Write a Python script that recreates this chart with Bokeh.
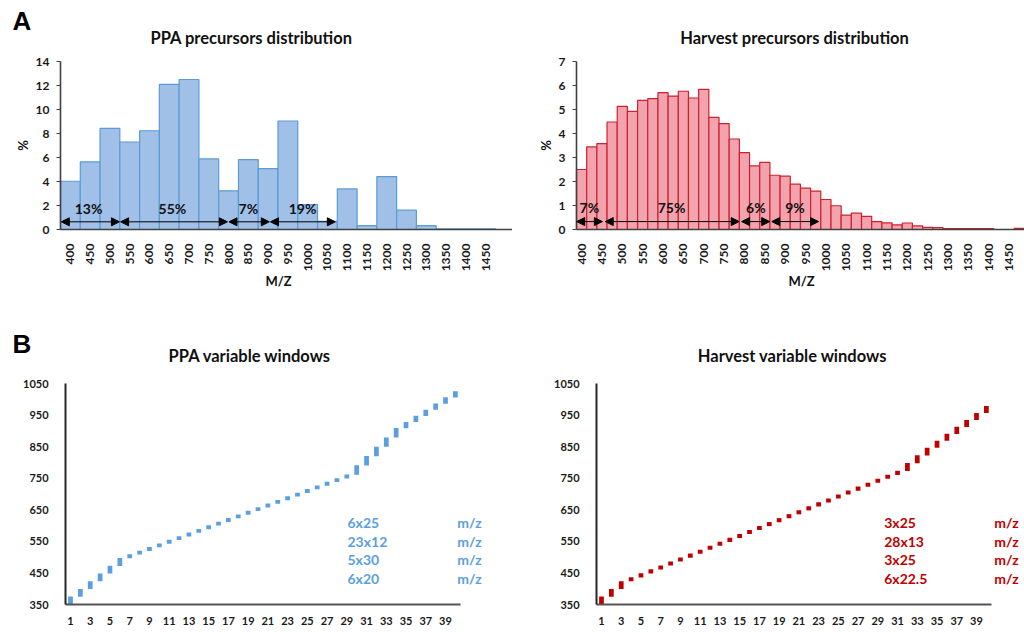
import math
from bokeh.plotting import figure
from bokeh.layouts import column, row
from bokeh.models import Range1d, FixedTicker, Label, Arrow, NormalHead
from bokeh.embed import file_html
from bokeh.resources import INLINE

FONT = "Lato"
LETTER_FONT = "Liberation Sans"
W, H = 512, 316

# ---------------- Panel A data ----------------
ppa_mz = [400, 450, 500, 550, 600, 650, 700, 750, 800, 850, 900,
          950, 1000, 1050, 1100, 1150, 1200, 1250, 1300, 1350, 1400, 1450]
ppa_pct = [4.02, 5.63, 8.43, 7.29, 8.23, 12.1, 12.5, 5.88, 3.22, 5.82, 5.07,
           9.04, 2.08, 0.67, 3.38, 0.33, 4.41, 1.61, 0.33, 0.05, 0.05, 0.05]
ppa_ticks = [400, 450, 500, 550, 600, 650, 700, 750, 800, 850, 900,
             950, 1000, 1050, 1100, 1150, 1200, 1250, 1300, 1350, 1400, 1450]
ppa_span_start = [377, 527, 801, 906]
ppa_span_end = [524, 797, 903, 1070]
ppa_span_text = ["13%", "55%", "7%", "19%"]
ppa_span_text_x = [446, 658, 850, 987]

harvest_mz = [400, 425, 450, 475, 500, 525, 550, 575, 600, 625, 650,
              675, 700, 725, 750, 775, 800, 825, 850, 875, 900, 925,
              950, 975, 1000, 1025, 1050, 1075, 1100, 1125, 1150, 1175,
              1200, 1225, 1250, 1275, 1300, 1325, 1350, 1375, 1400, 1425,
              1450, 1475]
harvest_pct = [2.50, 3.44, 3.58, 4.48, 5.13, 4.92, 5.38, 5.45, 5.70, 5.56, 5.76,
               5.48, 5.84, 4.67, 4.41, 3.77, 3.20, 2.65, 2.80, 2.26, 2.22, 1.89,
               1.72, 1.60, 1.25, 0.99, 0.60, 0.68, 0.55, 0.33, 0.28, 0.19,
               0.27, 0.15, 0.09, 0.08, 0.04, 0.04, 0.04, 0.04, 0.04, 0.0,
               0.0, 0.05]
harvest_ticks = [400, 450, 500, 550, 600, 650, 700, 750, 800, 850, 900,
                 950, 1000, 1050, 1100, 1150, 1200, 1250, 1300, 1350, 1400, 1450]
harvest_span_start = [388, 458, 793, 867]
harvest_span_end = [451, 787, 862, 982]
harvest_span_text = ["7%", "75%", "6%", "9%"]
harvest_span_text_x = [419, 621, 828, 924]

# ---------------- Panel B data ----------------
window_no = list(range(1, 41))
ppa_low = [350, 374.5, 399, 423.5, 448, 472.5, 497, 508.5, 520, 531.5,
           543, 554.5, 566, 577.5, 589, 600.5, 612, 623.5, 635, 646.5,
           658, 669.5, 681, 692.5, 704, 715.5, 727, 738.5, 750, 761.5,
           791, 820.5, 850, 879.5, 909, 928.5, 948, 967.5, 987, 1006.5]
ppa_high = [375, 399.5, 424, 448.5, 473, 497.5, 509, 520.5, 532, 543.5,
            555, 566.5, 578, 589.5, 601, 612.5, 624, 635.5, 647, 658.5,
            670, 681.5, 693, 704.5, 716, 727.5, 739, 750.5, 762, 791.5,
            821, 850.5, 880, 909.5, 929, 948.5, 968, 987.5, 1007, 1026.5]
harvest_low = [350, 374.5, 399, 423.5, 436, 448.5, 461, 473.5, 486, 498.5,
               511, 523.5, 536, 548.5, 561, 573.5, 586, 598.5, 611, 623.5,
               636, 648.5, 661, 673.5, 686, 698.5, 711, 723.5, 736, 748.5,
               761, 773.5, 798, 822.5, 847, 869, 891, 913, 935, 957]
harvest_high = [375, 399.5, 424, 436.5, 449, 461.5, 474, 486.5, 499, 511.5,
                524, 536.5, 549, 561.5, 574, 586.5, 599, 611.5, 624, 636.5,
                649, 661.5, 674, 686.5, 699, 711.5, 724, 736.5, 749, 761.5,
                774, 798.5, 823, 847.5, 869.5, 891.5, 913.5, 935.5, 957.5, 979.5]
window_ticks = [1, 3, 5, 7, 9, 11, 13, 15, 17, 19, 21, 23, 25, 27, 29, 31, 33, 35, 37, 39]
window_y_ticks = [350, 450, 550, 650, 750, 850, 950, 1050]
ppa_scheme = ["6x25", "23x12", "5x30", "6x20"]
harvest_scheme = ["3x25", "28x13", "3x25", "6x22.5"]

BLUE_FILL = "#a0c0e8"
BLUE_LINE = "#5b9bd5"
RED_FILL = "#f2a3ad"
RED_LINE = "#d0202e"
BLUE_BAR = "#5b9fe0"
RED_BAR = "#c00000"


def mapper(ox, oy, xp, xv, yp, yv):
    """Linear maps from page pixels to data, and ranges covering the canvas."""
    sx = (xp[1] - xp[0]) / (xv[1] - xv[0])
    sy = (yp[0] - yp[1]) / (yv[1] - yv[0])

    def fx(px):
        return xv[0] + (px - xp[0]) / sx

    def fy(py):
        return yv[0] + (yp[0] - py) / sy

    return fx, fy, Range1d(fx(ox), fx(ox + W)), Range1d(fy(oy + H), fy(oy))


def base_fig(xr, yr):
    p = figure(width=W, height=H, min_border=0, min_border_left=0, min_border_right=0,
               min_border_top=0, min_border_bottom=0, x_range=xr, y_range=yr,
               output_backend="svg", toolbar_location=None, title=None)
    p.outline_line_color = None
    p.grid.grid_line_color = None
    for ax in (p.xaxis[0], p.yaxis[0]):
        ax.major_label_text_font = FONT
        ax.major_label_text_font_style = "bold"
        ax.major_label_text_color = "#1a1a1a"
        ax.minor_tick_line_color = None
    return p


def text(p, x, y, s, size, color="#111111", align="left", angle=0.0, font=FONT):
    p.add_layout(Label(x=x, y=y, text=s, text_align=align, text_baseline="middle",
                       angle=angle, text_font=font, text_font_style="bold",
                       text_font_size=size, text_color=color))


def hist(ox, xp, mz, pct, width, ticks, ymax, ystep, s0, s1, stext, stx, sy, ty,
         fill, line, title, title_x, pct_x, mz_x, letter):
    fx, fy, xr, yr = mapper(ox, 0, xp, (mz[0], mz[-1]), (229, 61), (0, ymax))
    p = base_fig(xr, yr)
    x_lo = mz[0] - width / 2
    p.vbar(x=mz, top=pct, width=width, fill_color=fill, line_color=line, line_width=1.2)
    p.xaxis.fixed_location = 0
    p.yaxis.fixed_location = x_lo
    p.xaxis.bounds = (x_lo, xr.end)
    p.yaxis.bounds = (0, ymax)
    p.xaxis.ticker = FixedTicker(ticks=ticks)
    p.yaxis.ticker = FixedTicker(ticks=[i * ystep for i in range(int(round(ymax / ystep)) + 1)])
    p.xaxis.major_label_orientation = math.pi / 2
    p.xaxis.major_tick_line_color = None
    p.xaxis.major_label_standoff = 8
    for ax in (p.xaxis[0], p.yaxis[0]):
        ax.axis_line_color = "#404040"
        ax.axis_line_width = 1.6
        ax.major_label_text_font_size = "12px"
    p.yaxis.major_tick_line_color = "#404040"
    p.yaxis.major_tick_out = 4
    p.yaxis.major_tick_in = 0
    p.yaxis.major_label_standoff = 7
    for a, b, s, lx in zip(s0, s1, stext, stx):
        p.add_layout(Arrow(x_start=a, y_start=sy, x_end=b, y_end=sy,
                           line_color="black", line_width=1,
                           start=NormalHead(size=8, fill_color="black", line_color="black"),
                           end=NormalHead(size=8, fill_color="black", line_color="black")))
        text(p, lx, ty, s, "14px", align="center")
    text(p, fx(title_x), fy(37), title, "16.5px", align="center")
    text(p, fx(pct_x), fy(145), "%", "13px", align="center", angle=math.pi / 2)
    text(p, fx(mz_x), fy(280), "M/Z", "13px", align="center")
    if letter:
        text(p, fx(12), fy(20), letter, "26px", color="black", font=LETTER_FONT)
    return p


def windows(ox, xp, low, high, color, scheme, sx_px, mx_px, title, title_x, letter):
    fx, fy, xr, yr = mapper(ox, 316, xp, (1, 39), (604, 383.3), (350, 1050))
    p = base_fig(xr, yr)
    p.vbar(x=window_no, bottom=low, top=high, width=0.48, fill_color=color, line_color=None)
    p.xaxis.fixed_location = 350
    p.yaxis.fixed_location = 0.5
    p.xaxis.bounds = (0.5, 40.5)
    p.yaxis.bounds = (350, 1050)
    p.xaxis.ticker = FixedTicker(ticks=window_ticks)
    p.yaxis.ticker = FixedTicker(ticks=window_y_ticks)
    for ax in (p.xaxis[0], p.yaxis[0]):
        ax.major_tick_line_color = None
        ax.major_label_text_font_size = "11px"
    p.xaxis.axis_line_color = "#555555"
    p.xaxis.axis_line_width = 2
    p.yaxis.axis_line_color = "#262626"
    p.yaxis.axis_line_width = 2
    p.yaxis.major_label_standoff = 11
    p.xaxis.major_label_standoff = 6
    for s, py in zip(scheme, [522.3, 540.7, 559.3, 578]):
        text(p, fx(sx_px), fy(py), s, "14px", color=color)
        text(p, fx(mx_px), fy(py), "m/z", "14px", color=color)
    text(p, fx(title_x), fy(355), title, "16.5px", align="center")
    if letter:
        text(p, fx(12), fy(343), letter, "26px", color="black", font=LETTER_FONT)
    return p


p1 = hist(0, (69.9, 485.1), ppa_mz, ppa_pct, 50, ppa_ticks, 14, 2,
          ppa_span_start, ppa_span_end, ppa_span_text, ppa_span_text_x, 0.64, 1.79,
          BLUE_FILL, BLUE_LINE, "PPA precursors distribution", 251, 22, 278, "A")
p2 = hist(512, (581.1, 1018.8), harvest_mz, harvest_pct, 25, harvest_ticks, 7, 1,
          harvest_span_start, harvest_span_end, harvest_span_text, harvest_span_text_x,
          0.33, 0.9, RED_FILL, RED_LINE, "Harvest precursors distribution", 794, 545, 801, None)
p3 = windows(0, (70, 445), ppa_low, ppa_high, BLUE_BAR, ppa_scheme, 347, 456.7,
             "PPA variable windows", 249.5, "B")
p4 = windows(512, (601, 976), harvest_low, harvest_high, RED_BAR, harvest_scheme, 883.7, 993.7,
             "Harvest variable windows", 792, None)

layout = column(row(p1, p2), row(p3, p4))
open("out.html", "w").write(file_html(layout, INLINE))
